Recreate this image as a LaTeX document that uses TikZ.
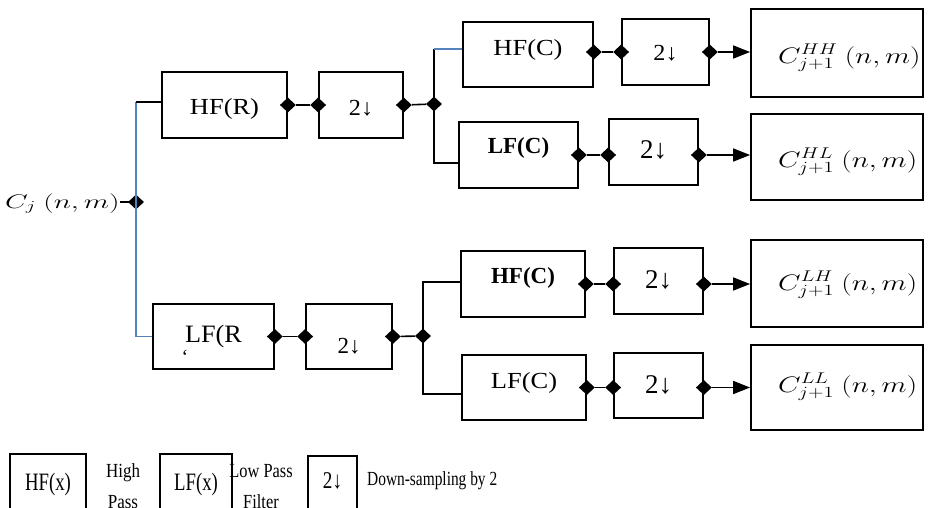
\documentclass[tikz,border=0pt]{standalone}
\usepackage{fontspec}
\setmainfont{Liberation Serif}
\usepackage{graphicx}
\usetikzlibrary{shapes.geometric,arrows.meta,calc}
\definecolor{lineblue}{RGB}{84,130,190}
\newcommand\hx[2]{\scalebox{#1}[1]{#2}}
\newcommand\tb[2]{\raisebox{#1}[0pt][0pt]{#2}}
\begin{document}
\begin{tikzpicture}[x=1pt,y=-1pt,
  filt/.style={draw,line width=1.7pt,rectangle,inner sep=0pt,font=\fontsize{23}{23}\selectfont},
  outb/.style={draw,line width=1.8pt,rectangle,inner sep=0pt,minimum width=172pt},
  lgb/.style={draw,line width=1.3pt,rectangle,inner sep=0pt,font=\fontsize{25}{25}\selectfont},
  mtxt/.style={inner sep=0pt,anchor=base west,font=\fontsize{20.74}{20.74}\selectfont},
  lgt/.style={inner sep=0pt,anchor=base,font=\fontsize{20}{31}\selectfont},
  dm/.style={diamond,fill=black,inner sep=0pt,minimum width=16pt,minimum height=15pt},
  wire/.style={line width=1.6pt},
  bwire/.style={line width=1.4pt,draw=lineblue},
  arr/.style={line width=1.6pt,-{Triangle[length=17pt,width=13pt]}}]
\clip (0,0) rectangle (929,507);
% ---------- input ----------
\node[mtxt] (cj) at (5,208) {\scalebox{1.42}[0.95]{$C_j\ (n,m)$}};
\node[dm] (d0) at (136,202) {};
% ---------- row filters ----------
\node[filt,minimum width=125pt,minimum height=66pt] (hfr) at (224.5,105) {\tb{-9.5pt}{\hx{1.15}{HF(R)}}};
\node[filt,minimum width=84pt,minimum height=66pt] (dsa) at (361,105) {\tb{-10pt}{\hx{1.05}{2↓}}};
\node[filt,minimum width=121pt,minimum height=65pt] (lfr) at (213.5,336.5) {\tb{-5.5pt}{\hx{1.05}{\fontsize{25}{25}\selectfont LF(R}}};
\node[inner sep=0pt,font=\fontsize{20}{20}\selectfont] (lfrq) at (185,357) {\symbol{"60}};
\node[filt,minimum width=86pt,minimum height=65pt] (dsb) at (349,336.5) {\tb{-17pt}{2↓}};
% ---------- column filters (top) ----------
\node[filt,minimum width=130pt,minimum height=65pt] (hfcA) at (528,54.5) {\tb{-0.5pt}{\hx{1.15}{HF(C)}}};
\node[filt,minimum width=87pt,minimum height=66pt] (dsA) at (665.5,52) {\tb{-8pt}{\hx{1.05}{2↓}}};
\node[filt,minimum width=119pt,minimum height=66pt] (lfcB) at (518.5,155) {\tb{2pt}{\bfseries LF(C)}};
\node[filt,minimum width=89pt,minimum height=66pt] (dsB) at (653.5,152) {\tb{-6pt}{\fontsize{27}{27}\selectfont 2↓}};
\node[outb,minimum height=88pt] (oHH) at (837,53) {};
\node[outb,minimum height=86pt] (oHL) at (837,157) {};
% ---------- column filters (bottom) ----------
\node[filt,minimum width=124pt,minimum height=66pt] (hfcC) at (523,284) {\tb{1pt}{\bfseries HF(C)}};
\node[filt,minimum width=89pt,minimum height=66pt] (dsC) at (658.5,281) {\tb{-7pt}{\fontsize{27}{27}\selectfont 2↓}};
\node[filt,minimum width=124pt,minimum height=65pt] (lfcD) at (524,387.5) {\tb{-0.5pt}{\hx{1.15}{LF(C)}}};
\node[filt,minimum width=89pt,minimum height=65pt] (dsD) at (658.5,385.5) {\tb{-7.5pt}{\fontsize{27}{27}\selectfont 2↓}};
\node[outb,minimum height=87pt] (oLH) at (837,283.5) {};
\node[outb,minimum height=85pt] (oLL) at (837,387.5) {};
% ---------- output labels ----------
\node[mtxt] (tHH) at (778,63) {\scalebox{1.41}[1.08]{$C_{j+1}^{HH}\ (n,m)$}};
\node[mtxt] (tHL) at (778,167) {\scalebox{1.41}[1.08]{$C_{j+1}^{HL}\ (n,m)$}};
\node[mtxt] (tLH) at (778,290) {\scalebox{1.41}[1.08]{$C_{j+1}^{LH}\ (n,m)$}};
\node[mtxt] (tLL) at (778,392) {\scalebox{1.41}[1.08]{$C_{j+1}^{LL}\ (n,m)$}};
% ---------- diamonds ----------
\node[dm] (r1) at (hfr.east) {};
\node[dm] (r2) at (dsa.west |- hfr.east) {};
\node[dm] (r3) at (dsa.east |- hfr.east) {};
\node[dm] (jr) at (434,104) {};
\node[dm] (s1) at (lfr.east) {};
\node[dm] (s2) at (dsb.west |- lfr.east) {};
\node[dm] (s3) at (dsb.east |- lfr.east) {};
\node[dm] (js) at (423,336) {};
\node[dm] (a1) at (hfcA.east |- dsA.west) {};
\node[dm] (a2) at (dsA.west) {};
\node[dm] (a3) at (dsA.east) {};
\node[dm] (b1) at (lfcB.east) {};
\node[dm] (b2) at (dsB.west |- lfcB.east) {};
\node[dm] (b3) at (dsB.east |- lfcB.east) {};
\node[dm] (c1) at (hfcC.east) {};
\node[dm] (c2) at (dsC.west |- hfcC.east) {};
\node[dm] (c3) at (dsC.east |- hfcC.east) {};
\node[dm] (e1) at (lfcD.east) {};
\node[dm] (e2) at (dsD.west |- lfcD.east) {};
\node[dm] (e3) at (dsD.east |- lfcD.east) {};
% ---------- connectors: input split ----------
\draw[wire] (cj.east |- d0) -- (d0.center);
\coordinate (ht) at ([yshift=3pt]hfr.west);
\draw[bwire] (d0.center) -- (d0.center |- ht);
\draw[wire] (d0.center |- ht) -- (ht);
\draw[bwire] (d0.center) |- (lfr.west);
% ---------- row chains ----------
\draw[wire] (r1) -- (r2);
\draw[wire] (r3) -- (jr);
\draw[wire] (s1) -- (s2);
\draw[wire] (s3) -- (js);
% ---------- column split top ----------
\coordinate (hA) at ([yshift=5.5pt]hfcA.west);
\coordinate (hB) at ([yshift=-8pt]lfcB.west);
\draw[wire] (jr.center) -- (jr.center |- hA);
\draw[bwire] (jr.center |- hA) -- (hA);
\draw[wire] (jr.center) |- (hB);
% ---------- column split bottom ----------
\coordinate (hC) at ([yshift=2pt]hfcC.west);
\coordinate (hD) at ([yshift=-6.5pt]lfcD.west);
\draw[wire] (js.center) |- (hC);
\draw[wire] (js.center) |- (hD);
% ---------- column chains ----------
\draw[wire] (a1) -- (a2);
\draw[arr] (a3) -- (a3 -| oHH.west);
\draw[wire] (b1) -- (b2);
\draw[arr] (b3) -- (b3 -| oHL.west);
\draw[wire] (c1) -- (c2);
\draw[arr] (c3) -- (c3 -| oLH.west);
\draw[wire] (e1) -- (e2);
\draw[arr] (e3) -- (e3 -| oLL.west);
% ---------- legend ----------
\node[lgb,minimum width=76pt,minimum height=58pt] (lg1) at (48,483) {\tb{-7pt}{\hx{0.75}{HF(x)}}};
\node[lgt] (lg1t) at (123,477) {\hx{0.85}{\begin{tabular}[t]{@{}c@{}}High\\Pass\end{tabular}}};
\node[lgb,minimum width=72pt,minimum height=58pt] (lg2) at (196,483) {\tb{-7pt}{\hx{0.75}{LF(x)}}};
\node[lgt] (lg2t) at (261,477) {\hx{0.82}{\begin{tabular}[t]{@{}c@{}}Low Pass\\Filter\end{tabular}}};
\node[lgb,minimum width=49pt,minimum height=56pt] (lg3) at (332.5,484) {\tb{-4pt}{\hx{0.8}{\fontsize{24}{24}\selectfont 2↓}}};
\node[lgt,anchor=base west] (lg3t) at (367,485) {\hx{0.77}{Down-sampling by 2}};
\end{tikzpicture}
\end{document}
